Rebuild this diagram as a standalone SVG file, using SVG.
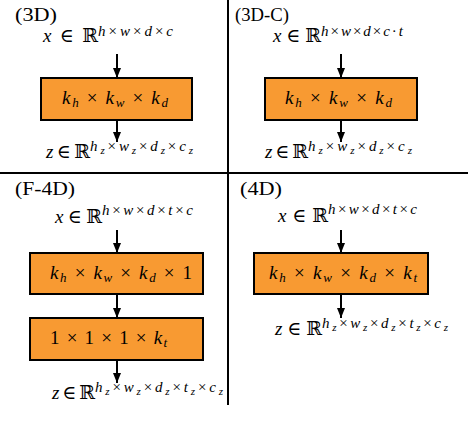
<svg xmlns="http://www.w3.org/2000/svg" width="468" height="436" viewBox="0 0 468 436">
<style>
text{font-family:"Liberation Serif","DejaVu Serif","DejaVu Sans",serif;fill:#000}
.t{font-size:19px}
.s{font-size:15px}
.i{font-style:italic}
.sb{font-size:13px;font-style:italic}
.ss{font-size:11px;font-style:italic}
.box{fill:#F89A32;stroke:#000;stroke-width:2}
.ar{stroke:#000;stroke-width:2;fill:none;marker-end:url(#ah)}
.div{stroke:#000;stroke-width:2}
</style>
<defs>
<marker id="ah" markerUnits="userSpaceOnUse" markerWidth="10" markerHeight="10" viewBox="0 0 10 10" refX="10" refY="5" orient="auto">
<path d="M0,1 L10,5 L0,9 z" fill="#000"/>
</marker>
</defs>
<g id="dividers">
<line class="div" x1="0" y1="173" x2="468" y2="173"/>
<line class="div" x1="228" y1="0" x2="228" y2="405"/>
</g>
<g id="connectors">
<line class="ar" x1="117" y1="54" x2="117" y2="78"/>
<line class="ar" x1="117" y1="120" x2="117" y2="142"/>
<line class="ar" x1="341" y1="54" x2="341" y2="78"/>
<line class="ar" x1="341" y1="120" x2="341" y2="142"/>
<line class="ar" x1="117" y1="230" x2="117" y2="253"/>
<line class="ar" x1="117" y1="294" x2="117" y2="318"/>
<line class="ar" x1="117" y1="360" x2="117" y2="383"/>
<line class="ar" x1="341" y1="230" x2="341" y2="253"/>
<line class="ar" x1="341" y1="294" x2="341" y2="318"/>
</g>
<g id="panel-3d">
<text class="t" x="15" y="21" textLength="42" lengthAdjust="spacingAndGlyphs">(3D)</text>
<text class="t" x="43" y="42" textLength="55" lengthAdjust="spacing"><tspan class="i">x</tspan> ∈ ℝ</text>
<text class="s" x="98" y="36" textLength="75" lengthAdjust="spacing"><tspan class="i">h</tspan>×<tspan class="i">w</tspan>×<tspan class="i">d</tspan>×<tspan class="i">c</tspan></text>
<g id="node-3d">
<rect class="box" x="41" y="78" width="151" height="42"/>
<text class="t" x="62" y="104" textLength="106" lengthAdjust="spacing"><tspan class="i">k</tspan><tspan class="sb" dy="3">h</tspan><tspan dy="-3"> × </tspan><tspan class="i">k</tspan><tspan class="sb" dy="3">w</tspan><tspan dy="-3"> × </tspan><tspan class="i">k</tspan><tspan class="sb" dy="3">d</tspan></text>
</g>
<text class="t" x="46" y="158" textLength="44" lengthAdjust="spacing"><tspan class="i">z</tspan> ∈ ℝ</text>
<text class="s" x="90" y="151" textLength="103" lengthAdjust="spacing"><tspan class="i">h</tspan><tspan class="ss" dy="2.5">z</tspan><tspan dy="-2.5">×</tspan><tspan class="i">w</tspan><tspan class="ss" dy="2.5">z</tspan><tspan dy="-2.5">×</tspan><tspan class="i">d</tspan><tspan class="ss" dy="2.5">z</tspan><tspan dy="-2.5">×</tspan><tspan class="i">c</tspan><tspan class="ss" dy="2.5">z</tspan></text>
</g>
<g id="panel-3d-c">
<text class="t" x="235" y="21" textLength="54" lengthAdjust="spacingAndGlyphs">(3D-C)</text>
<text class="t" x="273" y="42" textLength="48" lengthAdjust="spacing"><tspan class="i">x</tspan> ∈ ℝ</text>
<text class="s" x="321" y="36" textLength="82" lengthAdjust="spacing"><tspan class="i">h</tspan>×<tspan class="i">w</tspan>×<tspan class="i">d</tspan>×<tspan class="i">c</tspan>·<tspan class="i">t</tspan></text>
<g id="node-3d-c">
<rect class="box" x="265" y="78" width="152" height="42"/>
<text class="t" x="285" y="104" textLength="107" lengthAdjust="spacing"><tspan class="i">k</tspan><tspan class="sb" dy="3">h</tspan><tspan dy="-3"> × </tspan><tspan class="i">k</tspan><tspan class="sb" dy="3">w</tspan><tspan dy="-3"> × </tspan><tspan class="i">k</tspan><tspan class="sb" dy="3">d</tspan></text>
</g>
<text class="t" x="265" y="158" textLength="43" lengthAdjust="spacing"><tspan class="i">z</tspan> ∈ ℝ</text>
<text class="s" x="308" y="151" textLength="104" lengthAdjust="spacing"><tspan class="i">h</tspan><tspan class="ss" dy="2.5">z</tspan><tspan dy="-2.5">×</tspan><tspan class="i">w</tspan><tspan class="ss" dy="2.5">z</tspan><tspan dy="-2.5">×</tspan><tspan class="i">d</tspan><tspan class="ss" dy="2.5">z</tspan><tspan dy="-2.5">×</tspan><tspan class="i">c</tspan><tspan class="ss" dy="2.5">z</tspan></text>
</g>
<g id="panel-f-4d">
<text class="t" x="15" y="195" textLength="60" lengthAdjust="spacingAndGlyphs">(F-4D)</text>
<text class="t" x="55" y="223" textLength="47" lengthAdjust="spacing"><tspan class="i">x</tspan> ∈ ℝ</text>
<text class="s" x="102" y="215" textLength="91" lengthAdjust="spacing"><tspan class="i">h</tspan>×<tspan class="i">w</tspan>×<tspan class="i">d</tspan>×<tspan class="i">t</tspan>×<tspan class="i">c</tspan></text>
<g id="node-f-4d-1">
<rect class="box" x="30" y="253" width="173" height="41"/>
<text class="t" x="50" y="279" textLength="142" lengthAdjust="spacing"><tspan class="i">k</tspan><tspan class="sb" dy="3">h</tspan><tspan dy="-3"> × </tspan><tspan class="i">k</tspan><tspan class="sb" dy="3">w</tspan><tspan dy="-3"> × </tspan><tspan class="i">k</tspan><tspan class="sb" dy="3">d</tspan><tspan dy="-3"> × 1</tspan></text>
</g>
<g id="node-f-4d-2">
<rect class="box" x="30" y="318" width="173" height="42"/>
<text class="t" x="50" y="344" textLength="117" lengthAdjust="spacing">1 × 1 × 1 × <tspan class="i">k</tspan><tspan class="sb" dy="3">t</tspan></text>
</g>
<text class="t" x="52" y="399" textLength="43" lengthAdjust="spacing"><tspan class="i">z</tspan> ∈ ℝ</text>
<text class="s" x="95" y="392" textLength="128" lengthAdjust="spacing"><tspan class="i">h</tspan><tspan class="ss" dy="2.5">z</tspan><tspan dy="-2.5">×</tspan><tspan class="i">w</tspan><tspan class="ss" dy="2.5">z</tspan><tspan dy="-2.5">×</tspan><tspan class="i">d</tspan><tspan class="ss" dy="2.5">z</tspan><tspan dy="-2.5">×</tspan><tspan class="i">t</tspan><tspan class="ss" dy="2.5">z</tspan><tspan dy="-2.5">×</tspan><tspan class="i">c</tspan><tspan class="ss" dy="2.5">z</tspan></text>
</g>
<g id="panel-4d">
<text class="t" x="240" y="195" textLength="42" lengthAdjust="spacingAndGlyphs">(4D)</text>
<text class="t" x="278" y="222" textLength="50" lengthAdjust="spacing"><tspan class="i">x</tspan> ∈ ℝ</text>
<text class="s" x="328" y="214" textLength="89" lengthAdjust="spacing"><tspan class="i">h</tspan>×<tspan class="i">w</tspan>×<tspan class="i">d</tspan>×<tspan class="i">t</tspan>×<tspan class="i">c</tspan></text>
<g id="node-4d">
<rect class="box" x="254" y="253" width="174" height="41"/>
<text class="t" x="269" y="279" textLength="148" lengthAdjust="spacing"><tspan class="i">k</tspan><tspan class="sb" dy="3">h</tspan><tspan dy="-3"> × </tspan><tspan class="i">k</tspan><tspan class="sb" dy="3">w</tspan><tspan dy="-3"> × </tspan><tspan class="i">k</tspan><tspan class="sb" dy="3">d</tspan><tspan dy="-3"> × </tspan><tspan class="i">k</tspan><tspan class="sb" dy="3">t</tspan></text>
</g>
<text class="t" x="275" y="335" textLength="47" lengthAdjust="spacing"><tspan class="i">z</tspan> ∈ ℝ</text>
<text class="s" x="322" y="328" textLength="126" lengthAdjust="spacing"><tspan class="i">h</tspan><tspan class="ss" dy="2.5">z</tspan><tspan dy="-2.5">×</tspan><tspan class="i">w</tspan><tspan class="ss" dy="2.5">z</tspan><tspan dy="-2.5">×</tspan><tspan class="i">d</tspan><tspan class="ss" dy="2.5">z</tspan><tspan dy="-2.5">×</tspan><tspan class="i">t</tspan><tspan class="ss" dy="2.5">z</tspan><tspan dy="-2.5">×</tspan><tspan class="i">c</tspan><tspan class="ss" dy="2.5">z</tspan></text>
</g>
</svg>
